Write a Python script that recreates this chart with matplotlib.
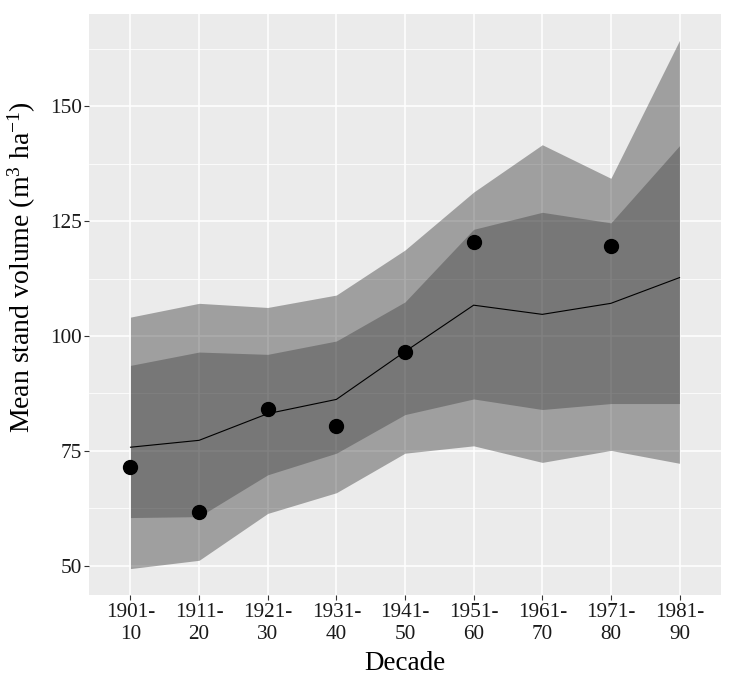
import numpy as np
import matplotlib
matplotlib.use("Agg")
import matplotlib.pyplot as plt

plt.rcParams['font.family'] = ['Liberation Serif', 'DejaVu Serif']
plt.rcParams['mathtext.fontset'] = 'custom'
plt.rcParams['mathtext.rm'] = 'Liberation Serif'
plt.rcParams['mathtext.it'] = 'Liberation Serif:italic'

# Datos
decadas = ["1901-\n10", "1911-\n20", "1921-\n30", "1931-\n40", "1941-\n50",
           "1951-\n60", "1961-\n70", "1971-\n80", "1981-\n90"]
media = [75.8, 77.3, 83.1, 86.2, 96.6, 106.7, 104.7, 107.1, 112.7]
interior_inf = [60.5, 60.7, 69.8, 74.5, 82.9, 86.3, 84.0, 85.3, 85.3]
interior_sup = [93.6, 96.5, 96.0, 98.9, 107.4, 123.2, 126.9, 124.6, 141.4]
exterior_inf = [49.4, 51.2, 61.4, 65.9, 74.5, 76.1, 72.5, 75.1, 72.3]
exterior_sup = [104.1, 107.1, 106.2, 108.9, 118.7, 131.3, 141.6, 134.3, 164.3]
observado = [71.6, 61.8, 84.1, 80.5, 96.6, 120.5, np.nan, 119.5, np.nan]

x = np.arange(len(decadas))

fig = plt.figure(figsize=(7.44, 6.85), dpi=100)
ax = fig.add_axes([0.120, 0.1314, 0.8487, 0.8482])
ax.set_facecolor("#EBEBEB")

# Rejilla estilo ggplot
ax.set_yticks([50, 75, 100, 125, 150])
ax.set_yticks([62.5, 87.5, 112.5, 137.5, 162.5], minor=True)
ax.grid(which="major", color="white", linewidth=1.1)
ax.grid(which="minor", axis="y", color="white", linewidth=0.55)
ax.set_axisbelow(True)

ax.fill_between(x, exterior_inf, exterior_sup, color="black", alpha=0.32, linewidth=0)
ax.fill_between(x, interior_inf, interior_sup, color="black", alpha=0.25, linewidth=0)
ax.plot(x, media, color="black", linewidth=0.8)
ax.plot(x, observado, "o", color="black", markersize=10)

rango = max(exterior_sup) - min(exterior_inf)
ax.set_ylim(min(exterior_inf) - 0.05 * rango, max(exterior_sup) + 0.05 * rango)
ax.set_xlim(-0.6, len(decadas) - 0.4)
ax.set_xticks(x)
ax.set_xticklabels(decadas, linespacing=1.25)

for s in ax.spines.values():
    s.set_visible(False)
ax.tick_params(which="major", length=3.5, width=0.8, color="#333333",
               labelsize=15.3, labelcolor="#1a1a1a", pad=2)
ax.tick_params(which="minor", length=0)

ax.set_xlabel("Decade", fontsize=19.5, labelpad=5)
ax.set_ylabel("Mean stand volume (m$^{3}$ ha$^{\\mathrm{-1}}$)", fontsize=20)
ax.yaxis.set_label_coords(-0.082, 0.565)

fig.savefig("out.png", dpi=100)
